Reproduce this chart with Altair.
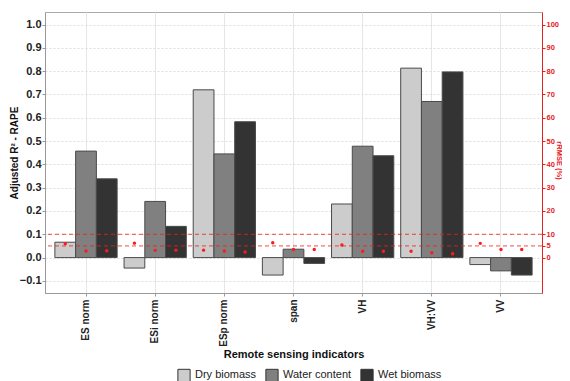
import altair as alt
import pandas as pd

categories = ["ES norm", "ESi norm", "ESp norm", "span", "VH", "VH:VV", "VV"]
series = ["Dry biomass", "Water content", "Wet biomass"]
colors = ["#cccccc", "#808080", "#333333"]

r2_dry = [0.066, -0.045, 0.72, -0.075, 0.23, 0.813, -0.03]
r2_water = [0.457, 0.241, 0.445, 0.036, 0.478, 0.67, -0.057]
r2_wet = [0.338, 0.134, 0.583, -0.025, 0.437, 0.797, -0.075]

rmse_dry = [5.9, 6.2, 3.2, 6.4, 5.4, 2.7, 6.1]
rmse_water = [2.8, 3.1, 2.8, 3.5, 2.7, 2.1, 3.5]
rmse_wet = [2.9, 3.2, 2.4, 3.5, 2.7, 1.6, 3.5]

thresholds = [0.05, 0.1]
left_ticks = [-0.1, 0.0, 0.1, 0.2, 0.3, 0.4, 0.5, 0.6, 0.7, 0.8, 0.9, 1.0]
right_ticks = [0, 5, 10, 20, 30, 40, 50, 60, 70, 80, 90, 100]

rows = []
for s, r2s, rms in zip(series, [r2_dry, r2_water, r2_wet], [rmse_dry, rmse_water, rmse_wet]):
    for c, a, b in zip(categories, r2s, rms):
        rows.append({"indicator": c, "series": s, "r2": a, "rmse": b})
df = pd.DataFrame(rows)
thr = pd.DataFrame({"t": thresholds})

RED = "#e8201e"

x = alt.X(
    "indicator:N",
    sort=categories,
    scale=alt.Scale(paddingInner=0.1, paddingOuter=0.143),
    axis=alt.Axis(
        title="Remote sensing indicators",
        labelAngle=-90,
        labelFontSize=10,
        labelFontWeight="bold",
        labelColor="#222",
        labelPadding=3,
        labelOverlap=False,
        titleFontSize=11,
        titleFontWeight="bold",
        titleColor="#111",
        titlePadding=2,
        domainColor="#999",
        tickColor="#999",
        tickSize=3,
        grid=True,
        gridColor="#e6e6e6",
        gridWidth=1,
    ),
)
xoff = alt.XOffset("series:N", sort=series, scale=alt.Scale(paddingInner=0, paddingOuter=0))

left_scale = alt.Scale(domain=[-0.152, 1.054], nice=False, zero=False)
right_scale = alt.Scale(domain=[-15.2, 105.4], nice=False, zero=False)

left_axis = alt.Axis(
    title="Adjusted R² - RAPE",
    orient="left",
    values=left_ticks,
    format=".1f",
    labelFontSize=11,
    labelFontWeight="bold",
    labelColor="#222",
    labelPadding=1,
    labelOverlap=False,
    labelFlush=False,
    titleFontSize=10,
    titleFontWeight="bold",
    titleColor="#111",
    titlePadding=0,
    domainColor="#999",
    tickColor="#999",
    tickSize=3,
    grid=True,
    gridColor="#dddddd",
    gridDash=[2, 2],
)

bars = alt.Chart(df).mark_bar(stroke="#4a4a4a", strokeWidth=1).encode(
    x=x,
    xOffset=xoff,
    y=alt.Y("r2:Q", scale=left_scale, axis=left_axis),
    color=alt.Color(
        "series:N",
        sort=series,
        scale=alt.Scale(domain=series, range=colors),
        legend=alt.Legend(
            title=None,
            orient="none",
            legendX=132,
            legendY=356,
            direction="horizontal",
            symbolType="square",
            symbolSize=150,
            symbolStrokeColor="#333",
            symbolStrokeWidth=1,
            symbolOpacity=1,
            labelFontSize=11,
            labelColor="#222",
            columnPadding=6,
        ),
    ),
)

rules = alt.Chart(thr).mark_rule(color=RED, strokeDash=[4, 3], strokeWidth=1, opacity=0.8).encode(
    y=alt.Y("t:Q", scale=left_scale, axis=left_axis)
)

points = alt.Chart(df).mark_circle(color="#ff1a1a", size=12, opacity=1).encode(
    x=x,
    xOffset=xoff,
    y=alt.Y(
        "rmse:Q",
        scale=right_scale,
        axis=alt.Axis(
            title="rRMSE (%)",
            orient="right",
            values=right_ticks,
            labelFontSize=7.5,
            labelFontWeight="bold",
            labelColor=RED,
            labelPadding=1,
            labelOverlap=False,
            titleFontSize=7.5,
            titleColor=RED,
            titleX=16,
            titleY=148,
            titleAngle=90,
            titleBaseline="middle",
            domainColor=RED,
            tickColor=RED,
            tickSize=3,
            grid=False,
        ),
    ),
)

left = alt.layer(bars, rules)
chart = (
    alt.layer(left, points)
    .resolve_scale(y="independent")
    .properties(
        width=497,
        height=281,
        autosize=alt.AutoSizeParams(type="none"),
        padding={"left": 37, "top": 4, "right": 20, "bottom": 100},
    )
    .configure_view(stroke="#aaaaaa")
    .configure_axis(labelFont="Liberation Sans", titleFont="Liberation Sans")
    .configure_legend(labelFont="Liberation Sans")
)

chart.save("out.html", embed_options={"renderer": "svg", "actions": False})
